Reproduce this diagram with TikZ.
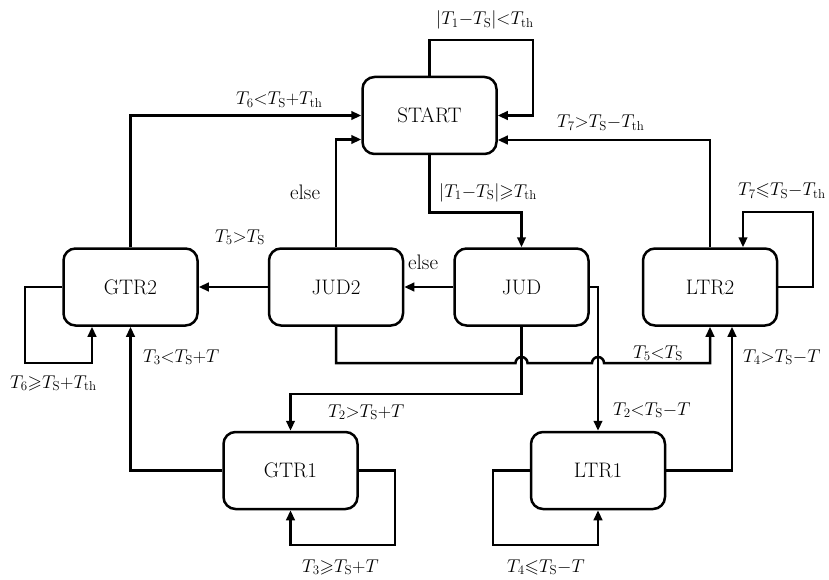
\RequirePackage{fix-cm}
\documentclass[tikz,border=0pt]{standalone}
\usepackage{amssymb}
\usetikzlibrary{arrows.meta,calc}
% no extra spacing around relations and binary operators in the conditions
\thickmuskip=0mu
\medmuskip=0mu
\newcommand\Ts{T_{\mathrm{S}}}
\newcommand\Tth{T_{\mathrm{th}}}
\begin{document}
\begin{tikzpicture}[x=1pt,y=-1pt,
  state/.style={draw, line width=2.5pt, rounded corners=12pt,
    minimum width=134pt, minimum height=77pt, inner sep=0pt,
    font=\fontsize{21}{25}\selectfont},
  link/.style={line width=2.5pt, -{Triangle[length=10pt,width=8.5pt]}},
  lab/.style={anchor=base west, inner sep=0pt,
    font=\fontsize{18.5}{22}\selectfont},
  word/.style={lab, font=\fontsize{21}{25}\selectfont}]
\useasboundingbox (0,0) rectangle (829,580);

% states
\node[state] (START) at (429.5,115.5) {START};
\node[state] (GTR2)  at (130.5,287) {GTR2};
\node[state] (JUD2)  at (336,287)   {JUD2};
\node[state] (JUD)   at (521.5,287) {JUD};
\node[state] (LTR2)  at (710,287)   {LTR2};
\node[state] (GTR1)  at (290.5,470.5) {GTR1};
\node[state] (LTR1)  at (598,470.5) {LTR1};

% turning points
\coordinate (s1) at (533,40);
\coordinate (l2a) at (813,212);
\coordinate (g2a) at (25,363);
\coordinate (g1a) at (395,545);
\coordinate (l1a) at (493,545);

% START
\draw[link] (START.north) |- (s1) |- (START.east);
\draw[link] (START.south) -- ++(0,57) -| (JUD.north);

% back to START
\draw[link] (GTR2.north) |- (START.west);
\draw[link] (JUD2.north) |- ($(START.west)+(0,24)$);
\draw[link] (LTR2.north) |- ($(START.east)+(0,24.5)$);

% JUD and JUD2
\draw[link] (JUD.west) -- (JUD2.east);
\draw[link] (JUD2.west) -- (GTR2.east);
\draw[link] (JUD.south) -- ++(0,67) -| (GTR1.north);
\draw[link] (JUD.east) -| (LTR1.north);
\draw[link] (JUD2.south) -- (336,363) -- (515.5,363)
  arc[start angle=180, end angle=0, radius=6pt] -- (592,363)
  arc[start angle=180, end angle=0, radius=6pt] -| (LTR2.south);

% GTR side
\draw[link] (GTR2.west) -| (g2a) -| ($(GTR2.south)+(-38.5,0)$);
\draw[link] (GTR1.west) -| (GTR2.south);
\draw[link] (GTR1.east) -| (g1a) -| (GTR1.south);

% LTR side
\draw[link] (LTR2.east) -| (l2a) -| ($(LTR2.north)+(33,0)$);
\draw[link] (LTR1.east) -| ($(LTR2.south)+(22,0)$);
\draw[link] (LTR1.west) -| (l1a) -| (LTR1.south);

% conditions
\node[lab]  (c1)  at (436,25)  {$|T_1-\Ts|<\Tth$};
\node[lab]  (c2)  at (557,128) {$T_7>\Ts-\Tth$};
\node[lab]  (c3)  at (738,196) {$T_7\leqslant\Ts-\Tth$};
\node[lab]  (c4)  at (236,105) {$T_6<\Ts+\Tth$};
\node[word] (c5)  at (290,199) {else};
\node[lab]  (c6)  at (439,197) {$|T_1-\Ts|\geqslant\Tth$};
\node[lab]  (c7)  at (215,242) {$T_5>\Ts$};
\node[word] (c8)  at (408,269) {else};
\node[lab]  (c9)  at (10,388)  {$T_6\geqslant\Ts+\Tth$};
\node[lab]  (c10) at (143,362) {$T_3<\Ts+T$};
\node[lab]  (c11) at (633,358) {$T_5<\Ts$};
\node[lab]  (c12) at (328,417) {$T_2>\Ts+T$};
\node[lab]  (c13) at (613,415) {$T_2<\Ts-T$};
\node[lab]  (c14) at (743,362) {$T_4>\Ts-T$};
\node[lab]  (c15) at (302,572) {$T_3\geqslant\Ts+T$};
\node[lab]  (c16) at (507,572) {$T_4\leqslant\Ts-T$};
\end{tikzpicture}
\end{document}
